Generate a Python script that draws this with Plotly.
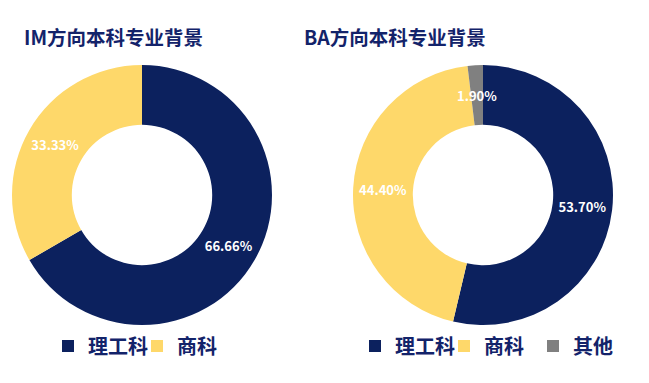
import math
import plotly.graph_objects as go

# Data
im_labels = ["理工科", "商科"]
im_values = [66.66, 33.33]
ba_labels = ["理工科", "商科", "其他"]
ba_values = [53.70, 44.40, 1.90]
titles = ["IM方向本科专业背景", "BA方向本科专业背景"]

color_map = {"理工科": "#0c215e", "商科": "#fed86a", "其他": "#808080"}
navy = "#13236a"
font_family = "Noto Sans CJK SC, Noto Sans, sans-serif"

W, H = 649, 383
OFF = 8  # page body margin offset


def px_x(x):
    return (x - OFF) / W


def px_y(y):
    return 1 - (y - OFF) / H


left_dom = dict(x=[px_x(12), px_x(272)], y=[px_y(325), px_y(65)])
right_dom = dict(x=[px_x(353), px_x(613)], y=[px_y(325), px_y(65)])
HOLE = 0.54

# right legend labels need distinct keys so each pie gets its own legend entries
ba_keys = [l + "\u200b" for l in ba_labels]

fig = go.Figure()
fig.add_trace(go.Pie(
    labels=im_labels, values=im_values, hole=HOLE, sort=False,
    direction="clockwise", rotation=0,
    marker=dict(colors=[color_map[l] for l in im_labels], line=dict(width=0)),
    texttemplate="%{value:.2f}%", textposition="inside",
    insidetextorientation="horizontal",
    textfont=dict(color="white", size=13, family=font_family, weight="bold"),
    domain=left_dom, legend="legend", hoverinfo="label+value",
))
small = [v < 5 for v in ba_values]
fig.add_trace(go.Pie(
    labels=ba_keys, values=ba_values, hole=HOLE, sort=False,
    direction="clockwise", rotation=0,
    marker=dict(colors=[color_map[l] for l in ba_labels], line=dict(width=0)),
    texttemplate=["" if s else "%{value:.2f}%" for s in small], textposition="inside",
    insidetextorientation="horizontal",
    textfont=dict(color="white", size=13, family=font_family, weight="bold"),
    domain=right_dom, legend="legend2", hoverinfo="label+value",
))

annotations = [
    dict(text="<b>%s</b>" % titles[0], x=px_x(114), y=px_y(36),
         xref="paper", yref="paper", showarrow=False, xanchor="center", yanchor="middle",
         font=dict(family=font_family, size=19.5, color=navy)),
    dict(text="<b>%s</b>" % titles[1], x=px_x(395), y=px_y(36),
         xref="paper", yref="paper", showarrow=False, xanchor="center", yanchor="middle",
         font=dict(family=font_family, size=19.5, color=navy)),
]

# labels for tiny slices, placed at the slice mid-angle in the middle of the ring
cx = (right_dom["x"][0] + right_dom["x"][1]) / 2 * W
cy = (1 - (right_dom["y"][0] + right_dom["y"][1]) / 2) * H
R = (right_dom["x"][1] - right_dom["x"][0]) * W / 2
rmid = R * (1 + HOLE) / 2
total = sum(ba_values)
cum = 0
for v, s in zip(ba_values, small):
    mid = (cum + v / 2) / total * 2 * math.pi
    cum += v
    if s:
        x = cx + rmid * math.sin(mid)
        y = cy - rmid * math.cos(mid)
        annotations.append(dict(
            text="%.2f%%" % v, x=x / W, y=1 - y / H, xref="paper", yref="paper",
            showarrow=False, xanchor="center", yanchor="middle",
            font=dict(family=font_family, size=13, color="white", weight="bold")))

legend_font = dict(family=font_family, size=20, color=navy, weight="bold")
fig.update_layout(
    width=W, height=H,
    margin=dict(l=0, r=0, t=0, b=0),
    paper_bgcolor="white", plot_bgcolor="white",
    legend=dict(orientation="h", x=px_x(48), y=px_y(346), xanchor="left", yanchor="middle",
                font=legend_font, itemwidth=30, entrywidth=44, entrywidthmode="pixels",
                bgcolor="rgba(0,0,0,0)"),
    legend2=dict(orientation="h", x=px_x(355), y=px_y(346), xanchor="left", yanchor="middle",
                 font=legend_font, itemwidth=30, entrywidth=44, entrywidthmode="pixels",
                 bgcolor="rgba(0,0,0,0)"),
    annotations=annotations,
)

fig.write_html("out.html")
